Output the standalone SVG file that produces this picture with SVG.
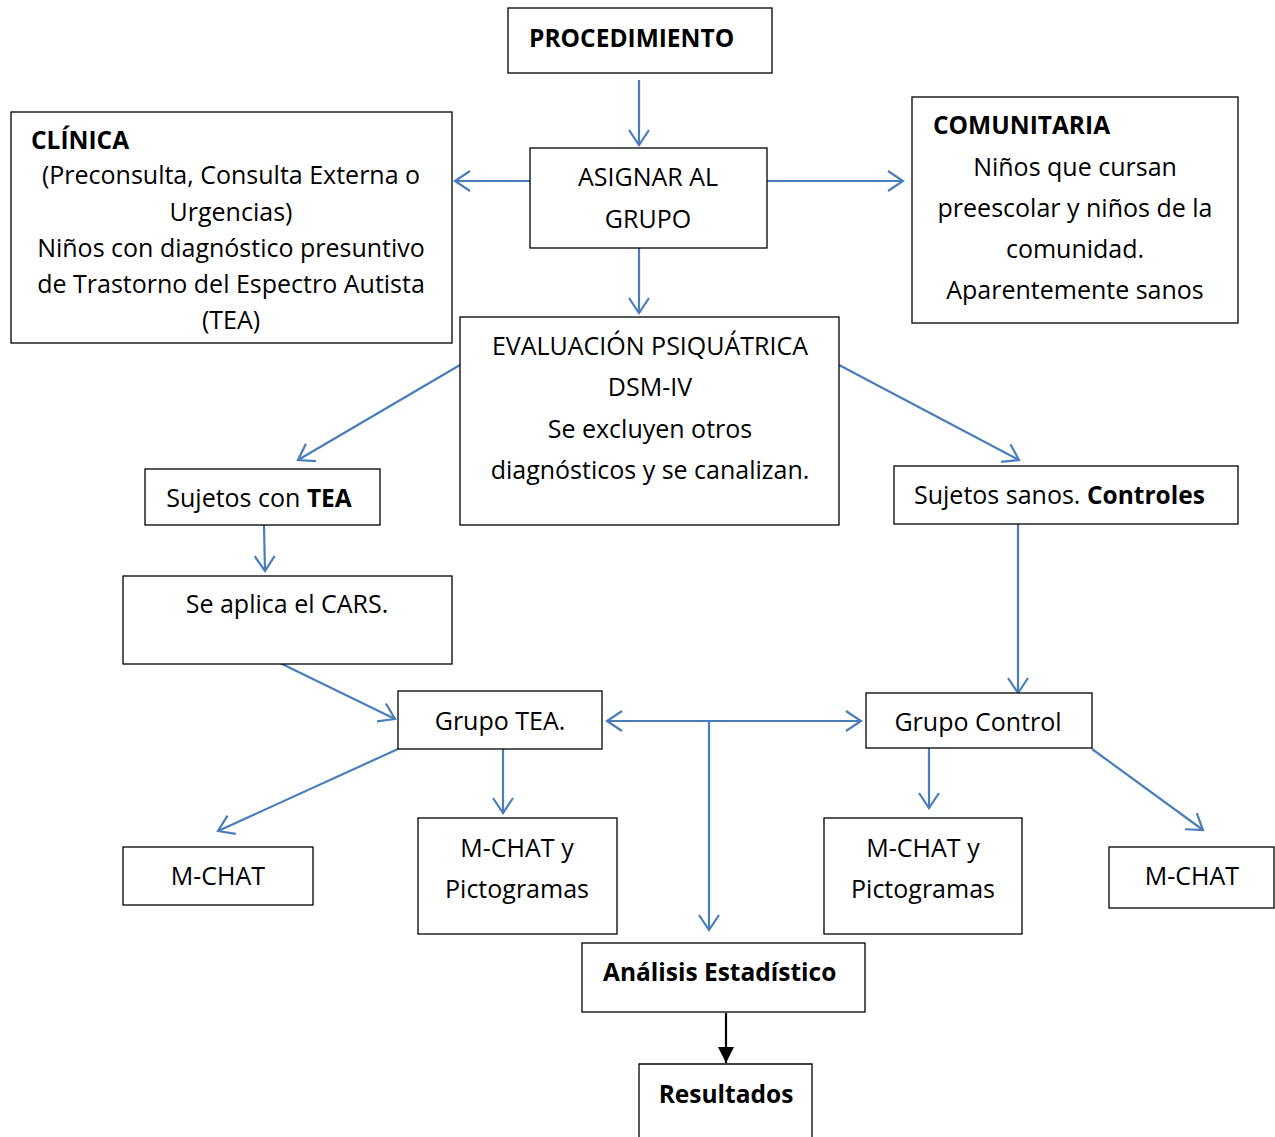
<svg xmlns="http://www.w3.org/2000/svg" width="1275" height="1137" viewBox="0 0 1275 1137">
<style>
.box{fill:#fff;stroke:#000;stroke-width:1.3}
.t{font-family:"Open Sans","Liberation Sans",sans-serif;font-size:25px;fill:#000}
.c{text-anchor:middle}
.b{font-weight:bold;font-size:24.5px}
.con{fill:none;stroke:#4a7ebb;stroke-width:2.2}
</style>
<defs>
<marker id="v" markerUnits="userSpaceOnUse" markerWidth="30" markerHeight="30" refX="16" refY="11" orient="auto">
<path d="M1,1 L16,11 L1,21" fill="none" stroke="#4a7ebb" stroke-width="2.2"/>
</marker>
<marker id="f" markerUnits="userSpaceOnUse" markerWidth="20" markerHeight="20" refX="16" refY="8" orient="auto">
<path d="M0,0 L16,8 L0,16 Z" fill="#000"/>
</marker>
</defs>
<rect width="1275" height="1137" fill="#fff"/>
<g id="connectors">
<line class="con" x1="639" y1="80" x2="639" y2="145" marker-end="url(#v)"/>
<line class="con" x1="530" y1="181" x2="455" y2="181" marker-end="url(#v)"/>
<line class="con" x1="767" y1="181" x2="903" y2="181" marker-end="url(#v)"/>
<line class="con" x1="639" y1="248" x2="639" y2="313" marker-end="url(#v)"/>
<line class="con" x1="460" y1="365" x2="298" y2="460" marker-end="url(#v)"/>
<line class="con" x1="839" y1="365" x2="1019" y2="460" marker-end="url(#v)"/>
<line class="con" x1="264" y1="525" x2="265" y2="571" marker-end="url(#v)"/>
<line class="con" x1="1018" y1="524" x2="1018" y2="693" marker-end="url(#v)"/>
<line class="con" x1="280" y1="663" x2="395" y2="719" marker-end="url(#v)"/>
<line class="con" x1="709" y1="721" x2="607" y2="721" marker-end="url(#v)"/>
<line class="con" x1="709" y1="721" x2="861" y2="721" marker-end="url(#v)"/>
<line class="con" x1="709" y1="721" x2="709" y2="930" marker-end="url(#v)"/>
<line class="con" x1="398" y1="749" x2="218" y2="831" marker-end="url(#v)"/>
<line class="con" x1="503" y1="749" x2="503" y2="813" marker-end="url(#v)"/>
<line class="con" x1="929" y1="748" x2="929" y2="808" marker-end="url(#v)"/>
<line class="con" x1="1092" y1="749" x2="1203" y2="830" marker-end="url(#v)"/>
<line x1="726" y1="1013" x2="726" y2="1063" stroke="#000" stroke-width="2.2" marker-end="url(#f)"/>
</g>
<g id="procedimiento">
<rect class="box" x="508" y="8" width="264" height="65"/>
<text class="t b" x="529" y="47">PROCEDIMIENTO</text>
</g>
<g id="asignar">
<rect class="box" x="530" y="148" width="237" height="100"/>
<text class="t c" x="648" y="186">ASIGNAR AL</text>
<text class="t c" x="648" y="228">GRUPO</text>
</g>
<g id="clinica">
<rect class="box" x="11" y="112" width="441" height="231"/>
<text class="t b" x="31" y="149">CLÍNICA</text>
<text class="t c" x="231" y="184">(Preconsulta, Consulta Externa o</text>
<text class="t c" x="231" y="221">Urgencias)</text>
<text class="t c" x="231" y="257">Niños con diagnóstico presuntivo</text>
<text class="t c" x="231" y="293">de Trastorno del Espectro Autista</text>
<text class="t c" x="231" y="329">(TEA)</text>
</g>
<g id="comunitaria">
<rect class="box" x="912" y="97" width="326" height="226"/>
<text class="t b" x="933" y="134">COMUNITARIA</text>
<text class="t c" x="1075" y="176">Niños que cursan</text>
<text class="t c" x="1075" y="217">preescolar y niños de la</text>
<text class="t c" x="1075" y="258">comunidad.</text>
<text class="t c" x="1075" y="299">Aparentemente sanos</text>
</g>
<g id="evaluacion">
<rect class="box" x="460" y="317" width="379" height="208"/>
<text class="t c" x="650" y="355">EVALUACIÓN PSIQUÁTRICA</text>
<text class="t c" x="650" y="396">DSM-IV</text>
<text class="t c" x="650" y="438">Se excluyen otros</text>
<text class="t c" x="650" y="479">diagnósticos y se canalizan.</text>
</g>
<g id="sujetos-tea">
<rect class="box" x="145" y="469" width="235" height="56"/>
<text class="t c" x="259" y="507">Sujetos con <tspan class="b">TEA</tspan></text>
</g>
<g id="sujetos-sanos">
<rect class="box" x="894" y="466" width="344" height="58"/>
<text class="t" x="914" y="504">Sujetos sanos. <tspan class="b">Controles</tspan></text>
</g>
<g id="cars">
<rect class="box" x="123" y="576" width="329" height="88"/>
<text class="t c" x="287" y="613">Se aplica el CARS.</text>
</g>
<g id="grupo-tea">
<rect class="box" x="398" y="691" width="204" height="58"/>
<text class="t c" x="500" y="730">Grupo TEA.</text>
</g>
<g id="grupo-control">
<rect class="box" x="866" y="693" width="226" height="55"/>
<text class="t c" x="978" y="731">Grupo Control</text>
</g>
<g id="mchat-left">
<rect class="box" x="123" y="847" width="190" height="58"/>
<text class="t c" x="218" y="885">M-CHAT</text>
</g>
<g id="mchat-picto-left">
<rect class="box" x="418" y="818" width="199" height="116"/>
<text class="t c" x="517" y="857">M-CHAT y</text>
<text class="t c" x="517" y="898">Pictogramas</text>
</g>
<g id="mchat-picto-right">
<rect class="box" x="824" y="818" width="198" height="116"/>
<text class="t c" x="923" y="857">M-CHAT y</text>
<text class="t c" x="923" y="898">Pictogramas</text>
</g>
<g id="mchat-right">
<rect class="box" x="1109" y="847" width="165" height="61"/>
<text class="t c" x="1192" y="885">M-CHAT</text>
</g>
<g id="analisis">
<rect class="box" x="582" y="943" width="283" height="69"/>
<text class="t b" x="603" y="981">Análisis Estadístico</text>
</g>
<g id="resultados">
<path class="box" d="M639,1140 L639,1064 L812,1064 L812,1140"/>
<text class="t c b" x="726" y="1103">Resultados</text>
</g>
</svg>
